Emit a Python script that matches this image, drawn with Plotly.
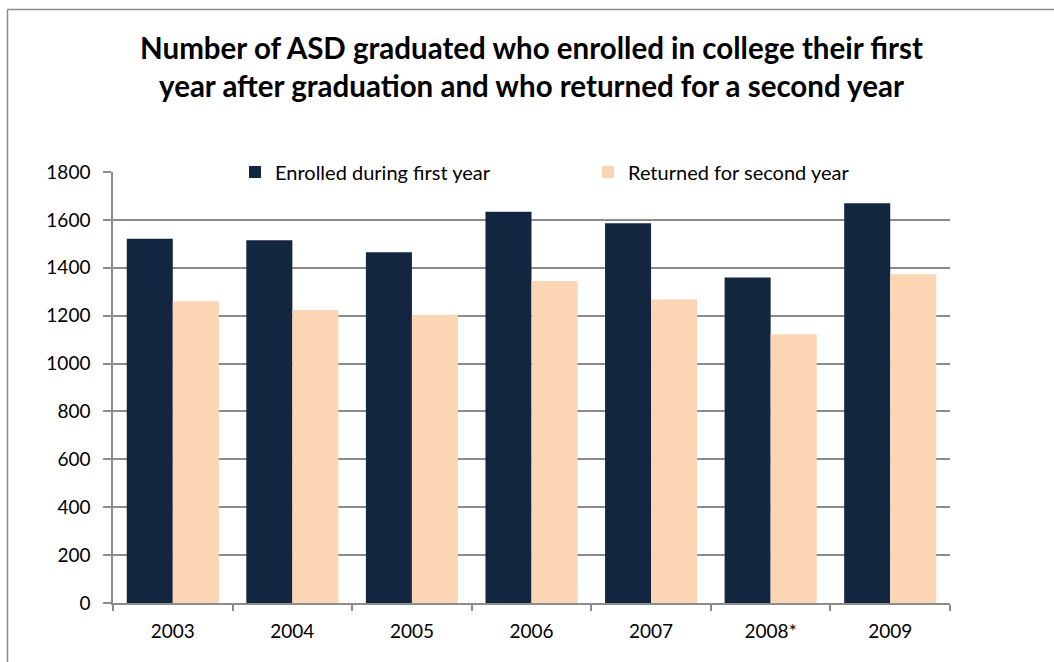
import plotly.graph_objects as go

years = ["2003", "2004", "2005", "2006", "2007", "2008*", "2009"]
enrolled_first_year = [1521, 1515, 1465, 1634, 1586, 1359, 1670]
returned_second_year = [1260, 1224, 1203, 1345, 1267, 1122, 1373]
y_ticks = [0, 200, 400, 600, 800, 1000, 1200, 1400, 1600, 1800]

NAVY = "#12263F"
PEACH = "#FCD5B4"
GRID = "#8C8C8C"
FONT = "Lato"

fig = go.Figure()
fig.add_trace(go.Bar(x=years, y=enrolled_first_year, name="Enrolled during first year",
                     marker=dict(color=NAVY, line=dict(width=0))))
fig.add_trace(go.Bar(x=years, y=returned_second_year, name="Returned for second year",
                     marker=dict(color=PEACH, line=dict(width=0))))

# plot area: x 113..950 px, y 172..603 px
L, R, T, B = 113, 104, 172, 59
W, H = 1054, 662
pw, ph = W - L - R, H - T - B

def px_x(p):
    return (p - L) / pw

def px_y(p):
    return (H - B - p) / ph

shapes = [
    # outer chart frame (left and top edges)
    dict(type="line", xref="paper", yref="paper", x0=px_x(7.5), x1=px_x(1060), y0=px_y(9.5), y1=px_y(9.5),
         line=dict(color="#8C8C8C", width=1.5)),
    dict(type="line", xref="paper", yref="paper", x0=px_x(7.5), x1=px_x(7.5), y0=px_y(9.5), y1=px_y(670),
         line=dict(color="#8C8C8C", width=1.5)),
    # legend box hides the top gridline
    dict(type="line", xref="paper", yref="y", x0=px_x(143), x1=1.0, y0=1800, y1=1800,
         line=dict(color="white", width=4), layer="between"),
]

fig.update_layout(
    width=W, height=H,
    margin=dict(l=L, r=R, t=T, b=B),
    paper_bgcolor="white", plot_bgcolor="white",
    font=dict(family=FONT, size=19, color="#000000"),
    title=dict(
        text="<b>Number of ASD graduated who enrolled in college their first<br>year after graduation and who returned for a second year</b>",
        x=0.5, xref="paper", xanchor="center",
        y=1 - 59 / H, yanchor="middle",
        font=dict(family=FONT, size=29.5, color="#000000"),
    ),
    barmode="group", bargap=0.23, bargroupgap=0,
    showlegend=True,
    legend=dict(orientation="h", x=px_x(235), xanchor="left", y=1.0, yanchor="middle",
                bgcolor="rgba(0,0,0,0)", font=dict(family=FONT, size=20),
                entrywidth=308, entrywidthmode="pixels", itemwidth=30,
                traceorder="normal"),
    xaxis=dict(showgrid=False, showline=True, linecolor=GRID, linewidth=1.5,
               ticks="outside", tickson="boundaries", ticklen=6, tickcolor=GRID, tickwidth=1.5,
               tickfont=dict(family=FONT, size=19), ticklabelstandoff=10),
    yaxis=dict(range=[0, 1800], tickvals=y_ticks, showgrid=True, gridcolor=GRID, gridwidth=1.5,
               showline=True, linecolor=GRID, linewidth=1.5, zeroline=False,
               ticks="outside", ticklen=8, tickcolor=GRID, tickwidth=1.5,
               tickfont=dict(family=FONT, size=19), ticklabelstandoff=9),
    shapes=shapes,
)

fig.write_html("out.html")
